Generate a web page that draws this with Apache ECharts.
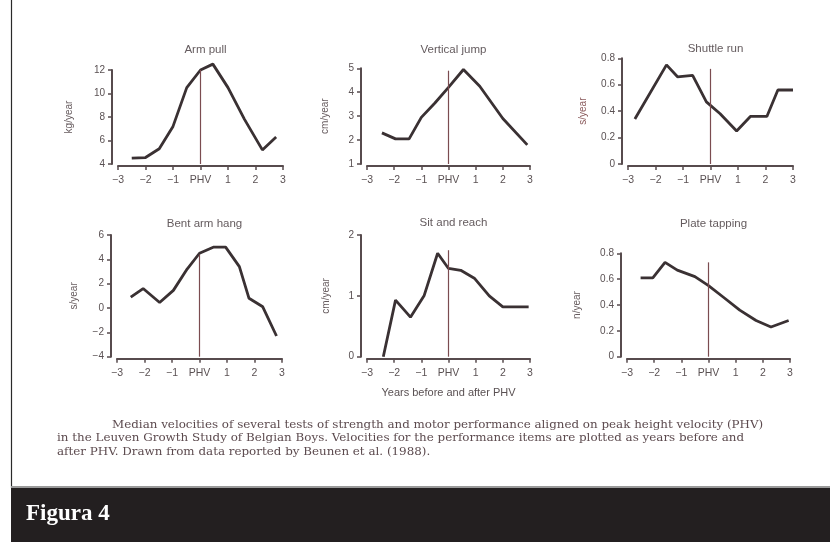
<!DOCTYPE html>
<html>
<head>
<meta charset="utf-8">
<script src="https://cdn.jsdelivr.net/npm/echarts@6/dist/echarts.min.js"></script>
<style>
html,body{margin:0;padding:0;background:#ffffff;}
#chart{width:830px;height:542px;}
</style>
</head>
<body>
<div id="chart"></div>
<script>
// ---- data (years relative to PHV, velocity) ----
var panelTitles = ['Arm pull', 'Vertical jump', 'Shuttle run', 'Bent arm hang', 'Sit and reach', 'Plate tapping'];
var unitNames = ['kg/year', 'cm/year', 's/year', 's/year', 'cm/year', 'n/year'];
var xTicks = ['−3', '−2', '−1', 'PHV', '1', '2', '3'];

var armPullYears = [-2.5, -2, -1.5, -1, -0.5, 0, 0.45, 1, 1.6, 2.25, 2.75];
var armPull      = [4.5, 4.55, 5.3, 7.2, 10.5, 12.0, 12.5, 10.5, 7.8, 5.2, 6.3];

var verticalJumpYears = [-2.45, -1.95, -1.45, -1, -0.5, 0, 0.55, 1.15, 2.0, 2.9];
var verticalJump      = [2.3, 2.05, 2.05, 2.95, 3.55, 4.2, 4.95, 4.25, 2.9, 1.8];

var shuttleRunYears = [-2.75, -1.6, -1.2, -0.65, -0.15, 0.35, 0.95, 1.45, 2.05, 2.45, 3.0];
var shuttleRun      = [0.34, 0.75, 0.66, 0.67, 0.47, 0.38, 0.25, 0.36, 0.36, 0.56, 0.56];

var bentArmHangYears = [-2.5, -2.05, -1.45, -0.95, -0.45, 0, 0.5, 0.95, 1.45, 1.8, 2.3, 2.8];
var bentArmHang      = [0.9, 1.6, 0.45, 1.45, 3.2, 4.5, 5.0, 5.0, 3.4, 0.8, 0.1, -2.3];

var sitReachYears = [-2.4, -1.95, -1.4, -0.9, -0.4, 0, 0.45, 0.95, 1.5, 2.0, 2.95];
var sitReach      = [0, 0.93, 0.65, 1.0, 1.7, 1.45, 1.42, 1.29, 1.0, 0.82, 0.82];

var plateTappingYears = [-2.5, -2.05, -1.6, -1.15, -0.5, 0, 0.55, 1.15, 1.75, 2.3, 2.95];
var plateTapping      = [0.61, 0.61, 0.73, 0.67, 0.62, 0.55, 0.46, 0.36, 0.28, 0.23, 0.28];

var yMins = [4, 1, 0, -4, 0, 0];
var yMaxs = [12, 5, 0.8, 6, 2, 0.8];
var yIntervals = [2, 1, 0.2, 2, 1, 0.2];
var phvTops = [12, 4.9, 0.72, 4.4, 1.75, 0.73];

var captionLines = [
  'Median velocities of several tests of strength and motor performance aligned on peak height velocity (PHV)',
  'in the Leuven Growth Study of Belgian Boys. Velocities for the performance items are plotted as years before and',
  'after PHV. Drawn from data reported by Beunen et al. (1988).'
];
var xAxisName = 'Years before and after PHV';
var footerLabel = 'Figura 4';

var seriesYears = [armPullYears, verticalJumpYears, shuttleRunYears, bentArmHangYears, sitReachYears, plateTappingYears];
var seriesVals = [armPull, verticalJump, shuttleRun, bentArmHang, sitReach, plateTapping];

// ---- layout ----
var grids = [
  {left: 118, top: 70, width: 165, height: 94},
  {left: 367, top: 68.3, width: 163, height: 95.7},
  {left: 628, top: 58.3, width: 165, height: 105.7},
  {left: 117, top: 235, width: 165, height: 121.7},
  {left: 367, top: 235, width: 163, height: 121.7},
  {left: 627, top: 253.3, width: 163, height: 103.4}
];
var titleTops = [39, 39, 38, 213, 212, 213];
var nameGaps = [38, 31, 34, 32, 30, 39];

var axisColor = '#574b4d';
var textColor = '#5a5153';
var lineColor = '#3a3133';
var phvColor = '#7b4c50';

var option = {
  backgroundColor: '#ffffff',
  animation: false,
  title: [],
  grid: [],
  xAxis: [],
  yAxis: [],
  series: [],
  graphic: []
};

for (var i = 0; i < 6; i++) {
  var g = grids[i];
  option.grid.push({left: g.left, top: g.top, width: g.width, height: g.height, containLabel: false});
  option.title.push({
    text: panelTitles[i],
    left: g.left + g.width / 2,
    top: titleTops[i],
    textAlign: 'center',
    textStyle: {fontFamily: 'Liberation Sans', fontSize: 11.5, fontWeight: 'normal', color: '#645b5e'}
  });
  option.xAxis.push({
    type: 'value', gridIndex: i, min: -3, max: 3, interval: 1,
    offset: 2,
    name: i === 4 ? xAxisName : '',
    nameLocation: 'middle', nameGap: 29,
    nameTextStyle: {fontFamily: 'Liberation Sans', fontSize: 11, color: textColor},
    axisLine: {onZero: false, lineStyle: {color: axisColor, width: 2}},
    axisTick: {show: true, length: 4, lineStyle: {color: axisColor, width: 1.5}},
    axisLabel: {
      margin: 9, fontFamily: 'Liberation Sans', fontSize: 10.5, color: textColor,
      formatter: function (v) { return xTicks[Math.round(v) + 3]; }
    },
    splitLine: {show: false}
  });
  option.yAxis.push({
    type: 'value', gridIndex: i, min: yMins[i], max: yMaxs[i], interval: yIntervals[i],
    offset: 6,
    name: unitNames[i], nameLocation: 'middle', nameGap: nameGaps[i], nameRotate: 90,
    nameTextStyle: {fontFamily: 'Liberation Sans', fontSize: 10, color: i === 2 ? '#8a5a5c' : '#665b5e'},
    axisLine: {show: true, onZero: false, lineStyle: {color: axisColor, width: 2}},
    axisTick: {show: true, length: 4, lineStyle: {color: axisColor, width: 1.5}},
    axisLabel: {
      margin: 7, fontFamily: 'Liberation Sans', fontSize: 10, color: textColor,
      formatter: function (v) {
        var s = (Math.abs(v) < 1e-9) ? '0' : (Math.round(v * 10) / 10).toString();
        return s.replace('-', '−');
      }
    },
    splitLine: {show: false}
  });
  var pts = [];
  for (var k = 0; k < seriesYears[i].length; k++) pts.push([seriesYears[i][k], seriesVals[i][k]]);
  option.series.push({
    type: 'line', xAxisIndex: i, yAxisIndex: i, data: pts,
    symbol: 'none', smooth: false, clip: false,
    lineStyle: {color: lineColor, width: 2.8},
    markLine: {
      silent: true, symbol: 'none', label: {show: false},
      lineStyle: {color: phvColor, width: 1.2, type: 'solid'},
      data: [[{coord: [0, yMins[i]]}, {coord: [0, phvTops[i]]}]]
    }
  });
}

// caption
var capY = [419, 432, 446];
var capX = [112, 57, 57];
for (var c = 0; c < 3; c++) {
  option.graphic.push({
    type: 'text', left: capX[c], top: capY[c],
    style: {text: captionLines[c], font: '11.9px "DejaVu Serif"', fill: '#5c4a4e'}
  });
}
// left border
option.graphic.push({
  type: 'line', shape: {x1: 11.5, y1: 0, x2: 11.5, y2: 488},
  style: {stroke: '#2a2a2a', lineWidth: 1.2}
});
// footer
option.graphic.push({
  type: 'rect', shape: {x: 11, y: 486, width: 819, height: 2},
  style: {fill: '#9a9a9a'}
});
option.graphic.push({
  type: 'rect', shape: {x: 11, y: 488, width: 819, height: 54},
  style: {fill: '#231f20'}
});
option.graphic.push({
  type: 'text', left: 26, top: 503,
  style: {text: footerLabel, font: 'bold 23px "Liberation Serif"', fill: '#ffffff'}
});

var chart = echarts.init(document.getElementById('chart'), null, {renderer: 'canvas'});
chart.setOption(option);
</script>
</body>
</html>
